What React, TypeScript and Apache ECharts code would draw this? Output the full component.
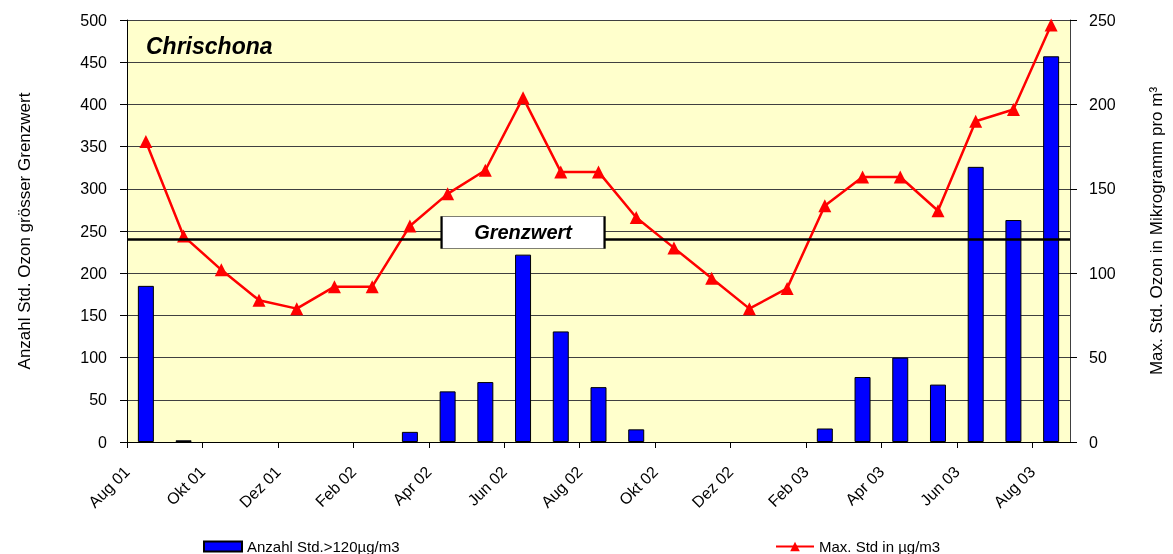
import React, { useEffect, useRef } from "react";
import * as echarts from "echarts";

const months = [
  "Aug 01", "Sep 01", "Okt 01", "Nov 01", "Dez 01", "Jan 02", "Feb 02", "Mär 02",
  "Apr 02", "Mai 02", "Jun 02", "Jul 02", "Aug 02", "Sep 02", "Okt 02", "Nov 02",
  "Dez 02", "Jan 03", "Feb 03", "Mär 03", "Apr 03", "Mai 03", "Jun 03", "Jul 03", "Aug 03",
];
// boundary labels (tick positions between months)
const tickLabels = [...months, "Sep 03"];

const anzahlStunden = [
  185, 2, 0, 0, 0, 0, 0, 12, 60, 71, 222, 131, 65, 15, 0, 0, 0, 0, 16, 77, 100, 68, 326, 263, 457,
];
const maxStunde = [
  178, 122, 102, 84, 79, 92, 92, 128, 147, 161, 204, 160, 160, 133, 115, 97, 79, 91, 140, 157, 157, 137, 190, 197, 247,
];
const grenzwert = 120;
const grenzwertMonth = "Jun 02";

const barName = "Anzahl Std.>120µg/m3";
const lineName = "Max. Std in µg/m3";
const titleText = "Chrischona";
const leftAxisName = "Anzahl Std. Ozon grösser Grenzwert";
const rightAxisName = "Max. Std. Ozon in Mikrogramm pro m³";

const FONT = "Arial, 'Liberation Sans', sans-serif";

export default function App() {
  const ref = useRef<HTMLDivElement>(null);
  useEffect(() => {
    if (!ref.current) return;
    const chart = echarts.init(ref.current, undefined, { renderer: "svg" });
    chart.setOption({
      animation: false,
      textStyle: { fontFamily: FONT, color: "#000" },
      title: {
        text: titleText,
        left: 141,
        top: 29,
        textStyle: { fontFamily: FONT, fontSize: 23, fontWeight: "bold", fontStyle: "italic", color: "#000" },
      },
      legend: [
        {
          data: [{ name: barName, icon: "rect" }],
          left: 198,
          top: 534,
          itemWidth: 38,
          itemHeight: 10,
          textStyle: { fontFamily: FONT, fontSize: 15, color: "#000" },
        },
        {
          data: [lineName],
          left: 770,
          top: 534,
          itemWidth: 38,
          itemHeight: 12,
          textStyle: { fontFamily: FONT, fontSize: 15, color: "#000" },
        },
      ],
      grid: {
        left: 127,
        right: 103,
        top: 20,
        bottom: 112,
        show: true,
        backgroundColor: "#FFFFCC",
        borderWidth: 0,
      },
      xAxis: [
        {
          type: "category",
          data: months,
          position: "bottom",
          axisLine: { show: true, lineStyle: { color: "#000", width: 1 } },
          axisTick: { show: false },
          axisLabel: { show: false },
          splitLine: { show: false },
        },
        {
          type: "category",
          data: tickLabels,
          boundaryGap: false,
          position: "bottom",
          axisLine: { show: false },
          axisTick: { show: true, interval: 1, length: 6, lineStyle: { color: "#000" } },
          axisLabel: {
            show: true,
            interval: 1,
            rotate: 45,
            margin: 27,
            fontSize: 16,
            color: "#000",
            fontFamily: FONT,
          },
          splitLine: { show: false },
        },
      ],
      yAxis: [
        {
          type: "value",
          min: 0,
          max: 500,
          interval: 50,
          position: "left",
          name: leftAxisName,
          nameLocation: "middle",
          nameGap: 94,
          nameTextStyle: { fontFamily: FONT, fontSize: 17, color: "#000" },
          axisLine: { show: true, lineStyle: { color: "#000", width: 1 } },
          axisTick: { show: true, length: 7, lineStyle: { color: "#000" } },
          axisLabel: { margin: 20, fontSize: 16, color: "#000", fontFamily: FONT },
          splitLine: { show: true, lineStyle: { color: "#404040", width: 1 } },
        },
        {
          type: "value",
          min: 0,
          max: 250,
          interval: 50,
          position: "right",
          name: rightAxisName,
          nameLocation: "middle",
          nameGap: 78,
          nameTextStyle: { fontFamily: FONT, fontSize: 17, color: "#000" },
          axisLine: { show: true, lineStyle: { color: "#404040", width: 1 } },
          axisTick: { show: true, length: 7, lineStyle: { color: "#000" } },
          axisLabel: { margin: 19, fontSize: 16, color: "#000", fontFamily: FONT },
          splitLine: { show: false },
        },
      ],
      series: [
        {
          name: barName,
          type: "bar",
          xAxisIndex: 0,
          yAxisIndex: 0,
          data: anzahlStunden.map((v) => (v === 0 ? null : v)),
          barWidth: 16,
          itemStyle: { color: "#0000FF", borderColor: "#000", borderWidth: 1 },
        },
        {
          name: lineName,
          type: "line",
          xAxisIndex: 0,
          yAxisIndex: 1,
          data: maxStunde,
          symbol: "triangle",
          symbolSize: 13,
          lineStyle: { color: "#FF0000", width: 2.5 },
          itemStyle: { color: "#FF0000" },
          markLine: {
            silent: true,
            symbol: "none",
            label: { show: false },
            lineStyle: { color: "#000", width: 2.5, type: "solid" },
            data: [{ yAxis: grenzwert }],
          },
          markPoint: {
            silent: true,
            symbol: "rect",
            symbolSize: [163, 32],
            symbolOffset: [0, -7],
            itemStyle: { color: "#fff", borderColor: "#000", borderWidth: 1 },
            label: {
              show: true,
              position: "inside",
              formatter: "Grenzwert",
              color: "#000",
              fontFamily: FONT,
              fontSize: 20,
              fontWeight: "bold",
              fontStyle: "italic",
            },
            data: [{ coord: [grenzwertMonth, grenzwert] }],
          },
        },
      ],
    });
    return () => chart.dispose();
  }, []);
  return (
    <div
      ref={ref}
      style={{ position: "fixed", left: 0, top: 0, width: 1173, height: 554 }}
    />
  );
}
